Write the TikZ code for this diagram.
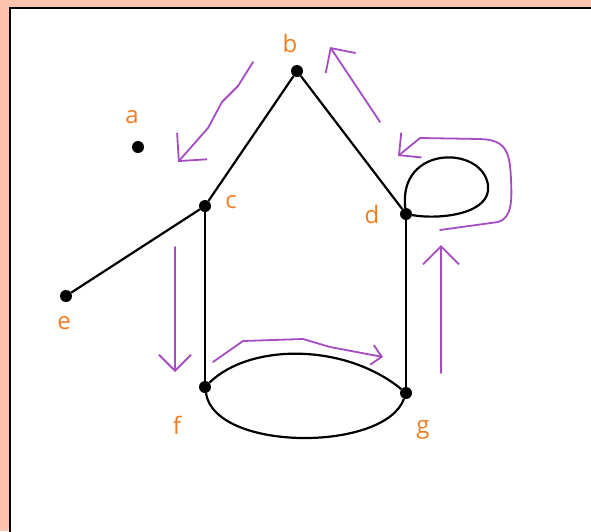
\documentclass[tikz,border=0pt]{standalone}
\usepackage{fontspec}
\setsansfont{Open Sans}
\usepackage{tikz}
\usetikzlibrary{arrows.meta}
\definecolor{framepink}{RGB}{255,196,176}
\definecolor{vlabel}{RGB}{240,125,35}
\definecolor{walk}{RGB}{165,75,195}

\begin{document}
\begin{tikzpicture}[x=1pt, y=-1pt,
  vertex/.style={circle, fill=black, inner sep=0pt, minimum size=12pt},
  vname/.style={text=vlabel, font=\sffamily\fontsize{24}{24}\selectfont, inner sep=0pt},
  edge/.style={line width=2.2pt},
  walkarrow/.style={draw=walk, line width=1.8pt, line cap=round, line join=round,
                    -{Straight Barb[length=#1, angle'=90]}},
  walkarrow/.default=16pt]
  \useasboundingbox (0,0) rectangle (591,531);
  \fill[framepink] (0,0) rectangle (591,531);
  \draw[fill=white, line width=2.5pt] (10,8) rectangle (600,540);

  % vertices
  \node (a) [vertex] at (138,147) {};
  \node (b) [vertex] at (297,71) {};
  \node (c) [vertex] at (205,206) {};
  \node (d) [vertex] at (406,214) {};
  \node (e) [vertex] at (66,296) {};
  \node (f) [vertex] at (205,387) {};
  \node (g) [vertex] at (406,393) {};

  \node (la) [vname] at (132,117) {a};
  \node (lb) [vname] at (290,43) {b};
  \node (lc) [vname] at (231,202) {c};
  \node (ld) [vname] at (372,214) {d};
  \node (le) [vname] at (64,323) {e};
  \node (lf) [vname] at (177,425) {f};
  \node (lg) [vname] at (423,430) {g};

  % edges
  \draw[edge] (b) -- (c);
  \draw[edge] (b) -- (d);
  \draw[edge] (c) -- (e);
  \draw[edge] (c) -- (f);
  \draw[edge] (d) -- (g);
  \draw[edge] (f) .. controls (250,343) and (345,343) .. (g);
  \draw[edge] (f) .. controls (215,452) and (385,452) .. (g);
  \draw[edge] (d) .. controls (398,145) and (482,145) .. (488,185)
                  .. controls (492,214) and (440,220) .. (d);

  % walk
  \draw[walkarrow=20pt] (253,62) -- (238,86) -- (222,102) -- (208,128) -- (178,162);
  \draw[walkarrow=18pt] (380,122) -- (356,86) -- (330,47);
  \draw[walkarrow] (440,230) -- (498,222) .. controls (512,218) and (512,200) .. (511,180)
                   .. controls (510,150) and (505,140) .. (480,139) -- (420,138) -- (398,156);
  \draw[walkarrow=18pt] (441,373) -- (441,245);
  \draw[walkarrow] (175,247) -- (175,372);
  \draw[walkarrow=10pt] (213,362) -- (243,341) -- (303,339) -- (330,347) -- (383,357);
\end{tikzpicture}
\end{document}
